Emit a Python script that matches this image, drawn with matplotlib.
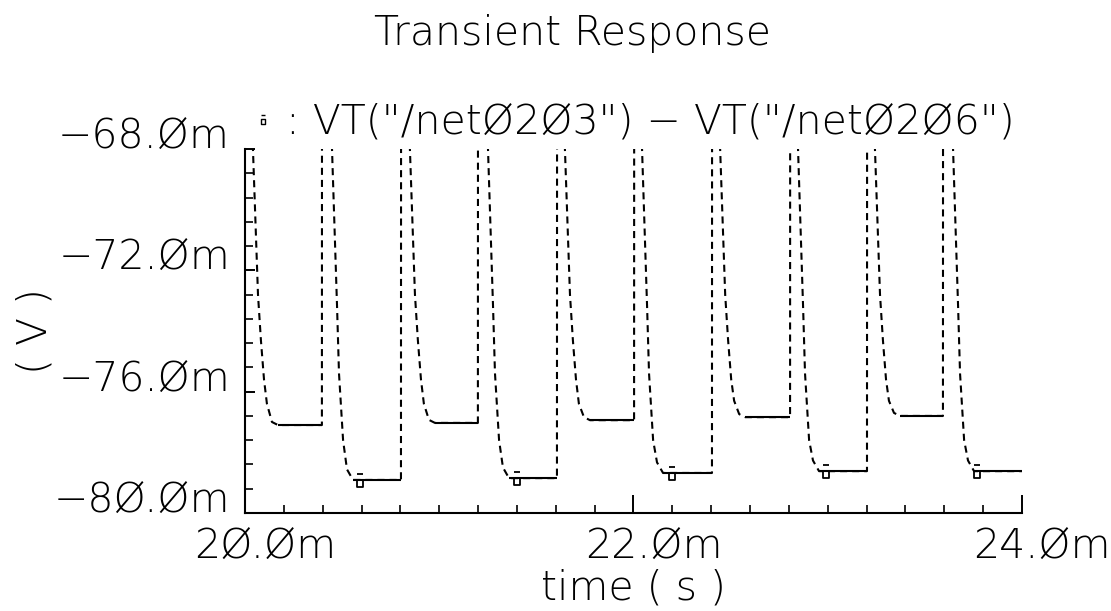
import matplotlib.pyplot as plt
import numpy as np
from matplotlib.path import Path
from matplotlib.lines import Line2D
from matplotlib.ticker import MultipleLocator
from matplotlib.transforms import ScaledTranslation

plt.rcParams['font.family'] = ['DejaVu Sans']

# VT("/net0203") - VT("/net0206"), time in ms, voltage in mV
time_ms = [20.000, 20.041, 20.067, 20.082, 20.098, 20.113, 20.139, 20.170, 20.396,
           20.397, 20.448, 20.463, 20.474, 20.484, 20.505, 20.525, 20.556, 20.803,
           20.804, 20.849, 20.875, 20.890, 20.906, 20.921, 20.947, 20.978, 21.199,
           21.200, 21.251, 21.266, 21.277, 21.287, 21.308, 21.328, 21.359, 21.606,
           21.607, 21.647, 21.673, 21.688, 21.704, 21.719, 21.745, 21.776, 22.003,
           22.004, 22.044, 22.059, 22.070, 22.080, 22.101, 22.121, 22.152, 22.404,
           22.405, 22.446, 22.472, 22.487, 22.503, 22.518, 22.544, 22.575, 22.806,
           22.807, 22.847, 22.862, 22.873, 22.883, 22.904, 22.924, 22.955, 23.202,
           23.203, 23.243, 23.269, 23.284, 23.300, 23.315, 23.341, 23.372, 23.593,
           23.594, 23.645, 23.660, 23.671, 23.681, 23.702, 23.722, 23.753, 24.000]
vdiff_mv = [-55.0, -68.0, -72.8, -74.3, -75.6, -76.4, -77.00, -77.10, -77.10,
            -55.0, -68.0, -71.0, -73.2, -75.4, -77.6, -78.56, -78.91, -78.91,
            -55.0, -68.0, -72.8, -74.3, -75.6, -76.4, -76.93, -77.03, -77.03,
            -55.0, -68.0, -71.0, -73.2, -75.4, -77.6, -78.50, -78.85, -78.85,
            -55.0, -68.0, -72.8, -74.3, -75.6, -76.4, -76.84, -76.94, -76.94,
            -55.0, -68.0, -71.0, -73.2, -75.4, -77.6, -78.33, -78.68, -78.68,
            -55.0, -68.0, -72.8, -74.3, -75.6, -76.3, -76.74, -76.84, -76.84,
            -55.0, -68.0, -71.0, -73.2, -75.4, -77.6, -78.27, -78.62, -78.62,
            -55.0, -68.0, -72.8, -74.3, -75.6, -76.3, -76.70, -76.80, -76.80,
            -55.0, -68.0, -71.0, -73.2, -75.4, -77.6, -78.27, -78.62, -78.62]
marker_ms = [20.592, 21.398, 22.197, 22.993, 23.767]

xtick_major = [20.0, 22.0, 24.0]
xtick_labels = ['2Ø.Øm', '22.Øm', '24.Øm']
ytick_major = [-80.0, -76.0, -72.0, -68.0]
ytick_labels = ['−8Ø.Øm', '−76.Øm', '−72.Øm', '−68.Øm']
trace_name = ': VT("/netØ2Ø3") − VT("/netØ2Ø6")'

FS = 29.5
FW = 200

fig = plt.figure(figsize=(11.11, 6.11), dpi=100)
ax = fig.add_axes([0.2205, 0.1604, 0.6994, 0.5957])

t = np.array(time_ms)
v = np.array(vdiff_mv)

# steep parts look dashed in the original, flat parts solid
ax.plot(t, v, color='black', lw=1.5, ls=(0, (3.4, 2.4)))
flat = np.where(np.isclose(v[:-1], v[1:]))[0]
for i in flat:
    ax.plot(t[i:i + 2], v[i:i + 2], color='black', lw=1.5, solid_capstyle='butt')

# cadence style marker: small box with a bar above
glyph = Path([(-0.22, -0.5), (0.22, -0.5), (0.22, 0.0), (-0.22, 0.0), (-0.22, -0.5),
              (-0.22, 0.42), (0.22, 0.42)],
             [Path.MOVETO, Path.LINETO, Path.LINETO, Path.LINETO, Path.CLOSEPOLY,
              Path.MOVETO, Path.LINETO])
ax.plot(marker_ms, np.interp(marker_ms, t, v), ls='none', marker=glyph, ms=9.5,
        mfc='none', mec='black', mew=1.3)

ax.set_xlim(20, 24)
ax.set_ylim(-80, -68)
for s in ['top', 'right']:
    ax.spines[s].set_visible(False)
for s in ['left', 'bottom']:
    ax.spines[s].set_linewidth(1.5)

ax.xaxis.set_minor_locator(MultipleLocator(0.2))
ax.yaxis.set_minor_locator(MultipleLocator(0.8))
ax.tick_params(axis='x', which='major', direction='in', length=13, width=1.4, pad=10.8)
ax.tick_params(axis='x', which='minor', direction='in', length=5.8, width=1.2)
ax.tick_params(axis='y', which='major', direction='in', length=7.2, width=1.4, pad=10.8)
ax.tick_params(axis='y', which='minor', direction='in', length=5.8, width=1.2)

ax.set_xticks(xtick_major, xtick_labels, fontsize=FS, fontweight=FW)
ax.set_yticks(ytick_major, ytick_labels, fontsize=FS, fontweight=FW, va='baseline')
shift = ScaledTranslation(0.20, 0, fig.dpi_scale_trans)
for lab in ax.get_xticklabels():
    lab.set_transform(lab.get_transform() + shift)

ax.set_xlabel('time ( s )', fontsize=FS, fontweight=FW, va='baseline')
ax.xaxis.set_label_coords(0.5, -0.239)
ax.set_ylabel('( V )', fontsize=FS, fontweight=FW, va='center')
ax.yaxis.set_label_coords(-0.270, 0.5)

handle = Line2D([], [], ls='none', marker=glyph, ms=7.5, mfc='none', mec='black', mew=1.0)
ax.legend([handle], [trace_name], loc='lower left',
          bbox_to_anchor=(251 / 1111, 1 - 141 / 611), bbox_transform=fig.transFigure,
          frameon=False, handlelength=0.6, handletextpad=0.25, borderpad=0,
          borderaxespad=0, prop={'size': FS, 'weight': FW})

fig.text(573 / 1111, 1 - 45 / 611, 'Transient Response', ha='center', va='baseline',
         fontsize=FS, fontweight=FW)

fig.savefig('out.png', dpi=100)
